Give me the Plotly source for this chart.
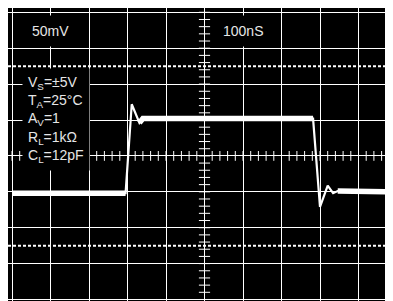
import numpy as np
import plotly.graph_objects as go

# ---- data ----
time_ns = [-500, -205, -189, -169, -160, 282, 300, 320, 334, 346, 489]
volt_mv = [-52, -52, 72, 46, 52, 52, -71, -41.5, -52, -49, -50]
# index pairs of the settled (noisy, thick) portions
flat_segments = [(0, 1), (3, 5), (9, 10)]

scale_labels = ["50mV", "100nS"]
scale_label_x = [-400, 100]
conditions = ["V<sub>S</sub>=±5V", "T<sub>A</sub>=25°C", "A<sub>V</sub>=1",
              "R<sub>L</sub>=1kΩ", "C<sub>L</sub>=12pF"]

FONT = "Liberation Sans Narrow, Arial Narrow, Liberation Sans, Arial"
TXT = "#e6e6e6"

fig = go.Figure()

# graticule minor ticks on the centre lines
xt = np.arange(-500, 501, 20)
yt = np.arange(-200, 201, 10)
fig.add_trace(go.Scatter(x=xt, y=np.zeros_like(xt), mode="markers",
                         marker=dict(symbol="line-ns-open", size=7, color="white",
                                     line=dict(color="white", width=1)),
                         hoverinfo="skip", showlegend=False))
fig.add_trace(go.Scatter(x=np.zeros_like(yt), y=yt, mode="markers",
                         marker=dict(symbol="line-ew-open", size=8, color="white",
                                     line=dict(color="white", width=1)),
                         hoverinfo="skip", showlegend=False))

# waveform
fig.add_trace(go.Scatter(x=time_ns, y=volt_mv, mode="lines",
                         line=dict(color="white", width=2.2),
                         hoverinfo="skip", showlegend=False))
for a, b in flat_segments:
    fig.add_trace(go.Scatter(x=time_ns[a:b + 1], y=volt_mv[a:b + 1], mode="lines",
                             line=dict(color="white", width=5.5),
                             hoverinfo="skip", showlegend=False))

# dotted reference lines
for yv in (125, -125):
    fig.add_hline(y=yv, line=dict(color="white", width=2, dash="3px,2px"))

# labels
for lab, xv in zip(scale_labels, scale_label_x):
    fig.add_annotation(x=xv, y=174, xref="x", yref="y", text=lab, showarrow=False,
                       font=dict(family=FONT, size=14, color=TXT),
                       bgcolor="black", borderpad=7, xanchor="center", yanchor="middle")

fig.add_annotation(x=-475, y=122, xref="x", yref="y", text="<br>".join(conditions),
                   showarrow=False, align="left",
                   font=dict(family=FONT, size=14, color=TXT),
                   bgcolor="black", borderpad=5, xanchor="left", yanchor="top")

# page body has an 8px margin, so the figure starts at (8, 8) in the window
fig.update_layout(
    width=385, height=293,
    margin=dict(l=0, r=0, t=0, b=0),
    paper_bgcolor="white", plot_bgcolor="black",
    xaxis=dict(range=[-510.4, 489.6], dtick=100, tick0=0, showgrid=True,
               gridcolor="white", gridwidth=1, zeroline=True, zerolinecolor="white",
               zerolinewidth=1, showticklabels=False, ticks="", showline=False,
               fixedrange=True),
    yaxis=dict(range=[-202.1, 206.0], dtick=50, tick0=0, showgrid=True,
               gridcolor="white", gridwidth=1, zeroline=True, zerolinecolor="white",
               zerolinewidth=1, showticklabels=False, ticks="", showline=False,
               fixedrange=True),
)

fig.write_html("out.html")
